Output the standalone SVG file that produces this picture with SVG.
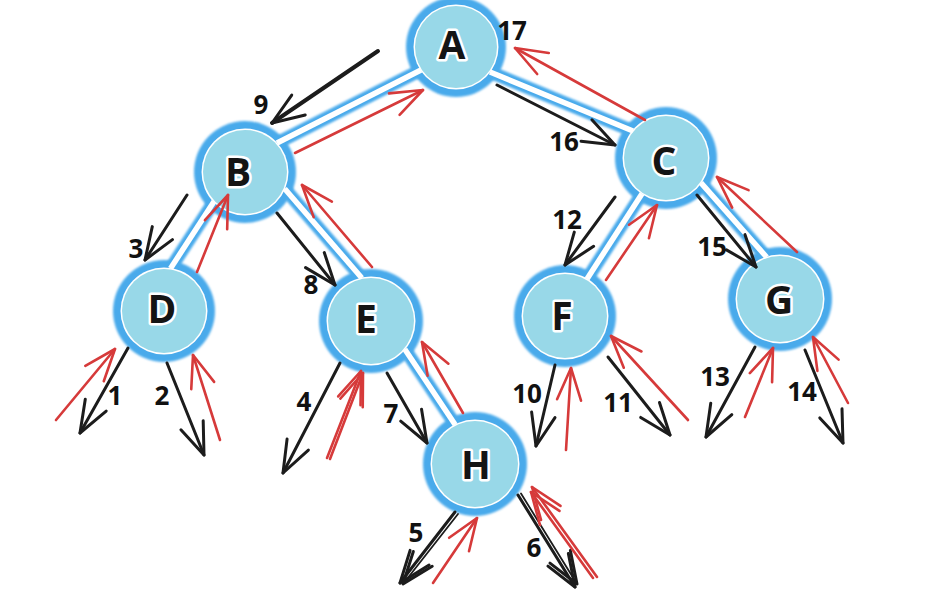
<svg xmlns="http://www.w3.org/2000/svg" width="942" height="616" viewBox="0 0 942 616">
<defs>
<style>
.po{stroke:#4aaaeb;stroke-width:13;fill:none;stroke-linecap:butt}
.pi{stroke:#ffffff;stroke-width:5.5;fill:none;stroke-linecap:butt}
.ring{fill:#4aaaeb}
.rw{fill:#ffffff}
.fl{fill:#98d8e8}
.lbl{font-family:"Open Sans","Noto Sans","Liberation Sans",sans-serif;font-weight:700;font-size:39px;fill:#141414;stroke:#ffffff;stroke-width:5;stroke-linejoin:round;paint-order:stroke;text-anchor:middle}
.num{font-family:"Open Sans","Noto Sans","Liberation Sans",sans-serif;font-weight:700;font-size:26px;fill:#111111;text-anchor:middle}
.blk{stroke:#1c1c1c;stroke-width:3;fill:none;stroke-linecap:round;marker-end:url(#hb)}
.red{stroke:#d63a3a;stroke-width:2.6;fill:none;stroke-linecap:round;marker-end:url(#hr)}
.thin{stroke-width:1.8}
</style>
<filter id="soft" x="-10%" y="-10%" width="120%" height="120%"><feGaussianBlur stdDeviation="0.8"/></filter>
<marker id="hb" markerUnits="userSpaceOnUse" viewBox="-40 -20 50 40" refX="0" refY="0" markerWidth="50" markerHeight="40" orient="auto" overflow="visible">
<path d="M-32,-12 L0,0 L-32,12" fill="none" stroke="#1c1c1c" stroke-width="3" stroke-linecap="round" stroke-linejoin="round"/>
</marker>
<marker id="hr" markerUnits="userSpaceOnUse" viewBox="-40 -20 50 40" refX="0" refY="0" markerWidth="50" markerHeight="40" orient="auto" overflow="visible">
<path d="M-32,-12 L0,0 L-32,12" fill="none" stroke="#d63a3a" stroke-width="2.6" stroke-linecap="round" stroke-linejoin="round"/>
</marker>
</defs>
<rect width="942" height="616" fill="#ffffff"/>

<g id="edges" filter="url(#soft)">
<line class="po" x1="277" y1="143" x2="421" y2="70"/>
<line class="po" x1="490" y1="72" x2="633" y2="131"/>
<line class="po" x1="214" y1="201.5" x2="170.5" y2="268.5"/>
<line class="po" x1="284.7" y1="188.7" x2="361.8" y2="278"/>
<line class="po" x1="404.8" y1="349.2" x2="455.2" y2="424.7"/>
<line class="po" x1="642" y1="193.7" x2="587" y2="279"/>
<line class="po" x1="701" y1="182.9" x2="766.7" y2="257.2"/>
</g>

<g id="node-A"><circle class="ring" cx="456" cy="47" r="50" filter="url(#soft)"/><circle class="rw" cx="456" cy="47" r="42.5"/><circle class="fl" cx="456" cy="47" r="41"/><text class="lbl" x="452" y="59">A</text></g>
<g id="node-B"><circle class="ring" cx="245" cy="172" r="51" filter="url(#soft)"/><circle class="rw" cx="245" cy="172" r="43.5"/><circle class="fl" cx="245" cy="172" r="42"/><text class="lbl" x="238" y="186">B</text></g>
<g id="node-C"><circle class="ring" cx="666" cy="158" r="51" filter="url(#soft)"/><circle class="rw" cx="666" cy="158" r="43.5"/><circle class="fl" cx="666" cy="158" r="42"/><text class="lbl" x="664" y="175">C</text></g>
<g id="node-D"><circle class="ring" cx="164" cy="311" r="51" filter="url(#soft)"/><circle class="rw" cx="164" cy="311" r="43.5"/><circle class="fl" cx="164" cy="311" r="42"/><text class="lbl" x="162" y="323">D</text></g>
<g id="node-E"><circle class="ring" cx="371" cy="321" r="52" filter="url(#soft)"/><circle class="rw" cx="371" cy="321" r="44.5"/><circle class="fl" cx="371" cy="321" r="43"/><text class="lbl" x="366" y="333">E</text></g>
<g id="node-F"><circle class="ring" cx="565" cy="316" r="51" filter="url(#soft)"/><circle class="rw" cx="565" cy="316" r="43.5"/><circle class="fl" cx="565" cy="316" r="42"/><text class="lbl" x="562" y="330">F</text></g>
<g id="node-G"><circle class="ring" cx="780" cy="299" r="52" filter="url(#soft)"/><circle class="rw" cx="780" cy="299" r="44.5"/><circle class="fl" cx="780" cy="299" r="43"/><text class="lbl" x="779" y="314">G</text></g>
<g id="node-H"><circle class="ring" cx="475" cy="464" r="52" filter="url(#soft)"/><circle class="rw" cx="475" cy="464" r="44.5"/><circle class="fl" cx="475" cy="464" r="43"/><text class="lbl" x="476" y="479">H</text></g>

<g id="edge-cores">
<line class="pi" x1="277" y1="143" x2="421" y2="70"/>
<line class="pi" x1="490" y1="72" x2="633" y2="131"/>
<line class="pi" x1="214" y1="201.5" x2="170.5" y2="268.5"/>
<line class="pi" x1="284.7" y1="188.7" x2="361.8" y2="278"/>
<line class="pi" x1="404.8" y1="349.2" x2="455.2" y2="424.7"/>
<line class="pi" x1="642" y1="193.7" x2="587" y2="279"/>
<line class="pi" x1="701" y1="182.9" x2="766.7" y2="257.2"/>
</g>

<g id="traversal-down">
<line class="blk" x1="378" y1="51" x2="272" y2="123" style="stroke-width:4"/>
<line class="blk" x1="187" y1="195" x2="145" y2="260"/>
<line class="blk" x1="128" y1="348" x2="80" y2="433"/>
<line class="blk" x1="167" y1="363" x2="204" y2="455"/>
<line class="blk" x1="277" y1="213" x2="335" y2="285"/>
<line class="blk" x1="340" y1="363" x2="283" y2="473"/>
<line class="blk" x1="387" y1="373" x2="427" y2="443"/>
<line class="blk" x1="455" y1="512" x2="400" y2="583"/>
<line class="blk thin" x1="458" y1="514" x2="403" y2="584"/>
<line class="blk" x1="518" y1="495" x2="575" y2="587"/>
<line class="blk thin" x1="521" y1="493.5" x2="577" y2="584"/>
<line class="blk" x1="555" y1="365" x2="536" y2="446"/>
<line class="blk" x1="608" y1="357" x2="670" y2="435"/>
<line class="blk" x1="615" y1="197" x2="565" y2="265"/>
<line class="blk" x1="697" y1="195" x2="756" y2="267"/>
<line class="blk" x1="755" y1="347" x2="706" y2="437"/>
<line class="blk" x1="805" y1="350" x2="843" y2="443"/>
<line class="blk" x1="497" y1="85" x2="615" y2="145"/>
</g>

<g id="traversal-up">
<line class="red" x1="295" y1="153" x2="423" y2="90"/>
<line class="red" x1="645" y1="120" x2="515" y2="48"/>
<line class="red" x1="197" y1="272" x2="228" y2="195"/>
<line class="red" x1="56" y1="420" x2="115" y2="349"/>
<line class="red" x1="220" y1="440" x2="193" y2="355"/>
<line class="red" x1="372" y1="267" x2="302" y2="185"/>
<line class="red" x1="327" y1="458" x2="361" y2="371"/>
<line class="red" x1="330" y1="459" x2="363" y2="373"/>
<line class="red" x1="463" y1="413" x2="422" y2="342"/>
<line class="red" x1="433" y1="583" x2="477" y2="518"/>
<line class="red" x1="597" y1="577" x2="532" y2="487"/>
<line class="red" x1="593" y1="578" x2="531" y2="492"/>
<line class="red" x1="606" y1="280" x2="657" y2="205"/>
<line class="red" x1="566" y1="450" x2="571" y2="368"/>
<line class="red" x1="688" y1="420" x2="611" y2="336"/>
<line class="red" x1="797" y1="252" x2="717" y2="177"/>
<line class="red" x1="745" y1="417" x2="773" y2="348"/>
<line class="red" x1="848" y1="403" x2="813" y2="337"/>
</g>

<g id="step-numbers">
<text class="num" x="261" y="113.5">9</text>
<text class="num" x="136" y="257.5">3</text>
<text class="num" x="115" y="404.5">1</text>
<text class="num" x="162" y="404.5">2</text>
<text class="num" x="311" y="293.5">8</text>
<text class="num" x="304" y="410.5">4</text>
<text class="num" x="391" y="422.5">7</text>
<text class="num" x="416" y="541.5">5</text>
<text class="num" x="534" y="556.5">6</text>
<text class="num" x="527" y="402.5">10</text>
<text class="num" x="618" y="411.5">11</text>
<text class="num" x="567" y="228.5">12</text>
<text class="num" x="712" y="255.5">15</text>
<text class="num" x="715" y="385.5">13</text>
<text class="num" x="802" y="400.5">14</text>
<text class="num" x="564" y="150.5">16</text>
<text class="num" x="512" y="39.5">17</text>
</g>
</svg>
